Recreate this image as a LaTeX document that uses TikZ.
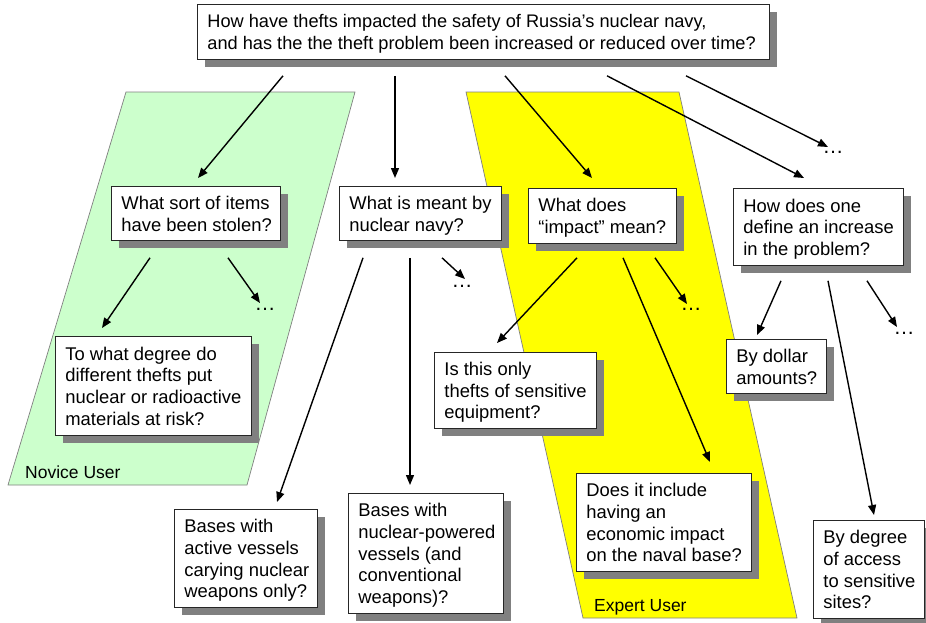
\documentclass[tikz,border=0pt]{standalone}
\usepackage{fontspec}
\setmainfont{Liberation Sans}
\usetikzlibrary{arrows.meta,calc,shadows}
\definecolor{novice}{HTML}{CCFFCC}
\definecolor{expert}{HTML}{FFFF00}
\definecolor{shade}{HTML}{808080}
\newcommand{\qlines}[2]{\raisebox{-2.5pt}[\height][\depth]{\makebox[#1][l]{\begin{tabular}{@{}l@{}}#2\end{tabular}}}}
\begin{document}
\begin{tikzpicture}[x=1pt,y=-1pt,
  qbox/.style={draw=black!85, line width=0.8pt, fill=white, anchor=north west,
    inner xsep=10pt, inner ysep=0pt,
    font=\fontsize{18.4}{21.7}\selectfont,
    drop shadow={shadow xshift=8pt, shadow yshift=-8pt, fill=shade, opacity=1}},
  arr/.style={line width=1.4pt, -{Triangle[length=10pt,width=8pt]}},
  dots/.style={anchor=base, inner sep=0pt, font=\fontsize{21}{24}\selectfont},
  lbl/.style={anchor=base west, inner sep=0pt, font=\fontsize{17.5}{20}\selectfont},
  zone/.style={draw=shade, line width=0.7pt}]
\fill[white] (0,0) rectangle (926,622);
\useasboundingbox (0,0) rectangle (926,622);

% user zones
\filldraw[zone, fill=novice] (126,92) -- (355,92) -- (247,485) -- (8,485) -- cycle;
\filldraw[zone, fill=expert] (466,92) -- (679,92) -- (797,618) -- (583,618) -- cycle;
\node[lbl] (novice) at (25,478) {Novice User};
\node[lbl] (expert) at (594,611) {Expert User};

% question boxes
\node[qbox, minimum height=55pt, font=\fontsize{18.2}{21.7}\selectfont] (top) at (197,4)
  {\qlines{552pt}{How have thefts impacted the safety of Russia’s nuclear navy,\\and has the the theft problem been increased or reduced over time?}};
\node[qbox, minimum height=54pt] (b1) at (111,186) {\qlines{149pt}{What sort of items\\have been stolen?}};
\node[qbox, minimum height=54pt] (b2) at (339,186) {\qlines{142pt}{What is meant by\\nuclear navy?}};
\node[qbox, minimum height=55pt] (b3) at (528,188) {\qlines{128pt}{What does\\“impact” mean?}};
\node[qbox, minimum height=77pt] (b4) at (733,188) {\qlines{150pt}{How does one\\define an increase\\in the problem?}};
\node[qbox, minimum height=54pt] (b5) at (726,339) {\qlines{80pt}{By dollar\\amounts?}};
\node[qbox, minimum height=98pt] (b6) at (813,520) {\qlines{91pt}{By degree\\of access\\to sensitive\\sites?}};
\node[qbox, minimum height=98pt] (b7) at (576,473) {\qlines{155pt}{Does it include\\having an\\economic impact\\on the naval base?}};
\node[qbox, minimum height=76pt] (b8) at (434,352) {\qlines{142pt}{Is this only\\thefts of sensitive\\equipment?}};
\node[qbox, minimum height=99pt] (b9) at (55,336) {\qlines{176pt}{To what degree do\\different thefts put\\nuclear or radioactive\\materials at risk?}};
\node[qbox, minimum height=98pt] (b10) at (174,509) {\qlines{123pt}{Bases with\\active vessels\\carying nuclear\\weapons only?}};
\node[qbox, minimum height=120pt] (b11) at (348,493) {\qlines{135pt}{Bases with\\nuclear-powered\\vessels (and\\conventional\\weapons)?}};

% ellipses
\node[dots] (d0) at (833,153) {…};
\node[dots] (d1) at (265,310) {…};
\node[dots] (d2) at (462,287) {…};
\node[dots] (d3) at (691,310) {…};
\node[dots] (d4) at (904,334) {…};

% connectors
\draw[arr] ($(top.south west)+(86,16)$) -- ($(b1.north west)+(87,-8)$);
\draw[arr] ($(top.south west)+(198,16)$) -- ($(b2.north west)+(56,-8)$);
\draw[arr] ($(top.south west)+(308,16)$) -- ($(b3.north west)+(64,-10)$);
\draw[arr] ($(top.south west)+(410,16)$) -- ($(b4.north west)+(71,-10)$);
\draw[arr] ($(top.south west)+(489,16)$) -- ($(d0.base)+(-5,-6)$);

\draw[arr] ($(b1.south west)+(39,17)$) -- ($(b9.north west)+(47,-8)$);
\draw[arr] ($(b1.south west)+(117,17)$) -- ($(d1.base)+(-5,-7)$);

\draw[arr] ($(b2.south west)+(24,17)$) -- ($(b10.north west)+(103,-7)$);
\draw[arr] ($(b2.south west)+(71,17)$) -- ($(b11.north west)+(62,-8)$);
\draw[arr] ($(b2.south west)+(103,17)$) -- ($(d2.base)+(3,-8)$);

\draw[arr] ($(b3.south west)+(49,14)$) -- ($(b8.north west)+(63,-9)$);
\draw[arr] ($(b3.south west)+(95,14)$) -- ($(b7.north west)+(134,-11)$);
\draw[arr] ($(b3.south west)+(127,14)$) -- ($(d3.base)+(-4,-6)$);

\draw[arr] ($(b4.south west)+(48,15)$) -- ($(b5.north west)+(31,-4)$);
\draw[arr] ($(b4.south west)+(95,15)$) -- ($(b6.north west)+(61,-5)$);
\draw[arr] ($(b4.south west)+(134,15)$) -- ($(d4.base)+(-7,-7)$);
\end{tikzpicture}
\end{document}
